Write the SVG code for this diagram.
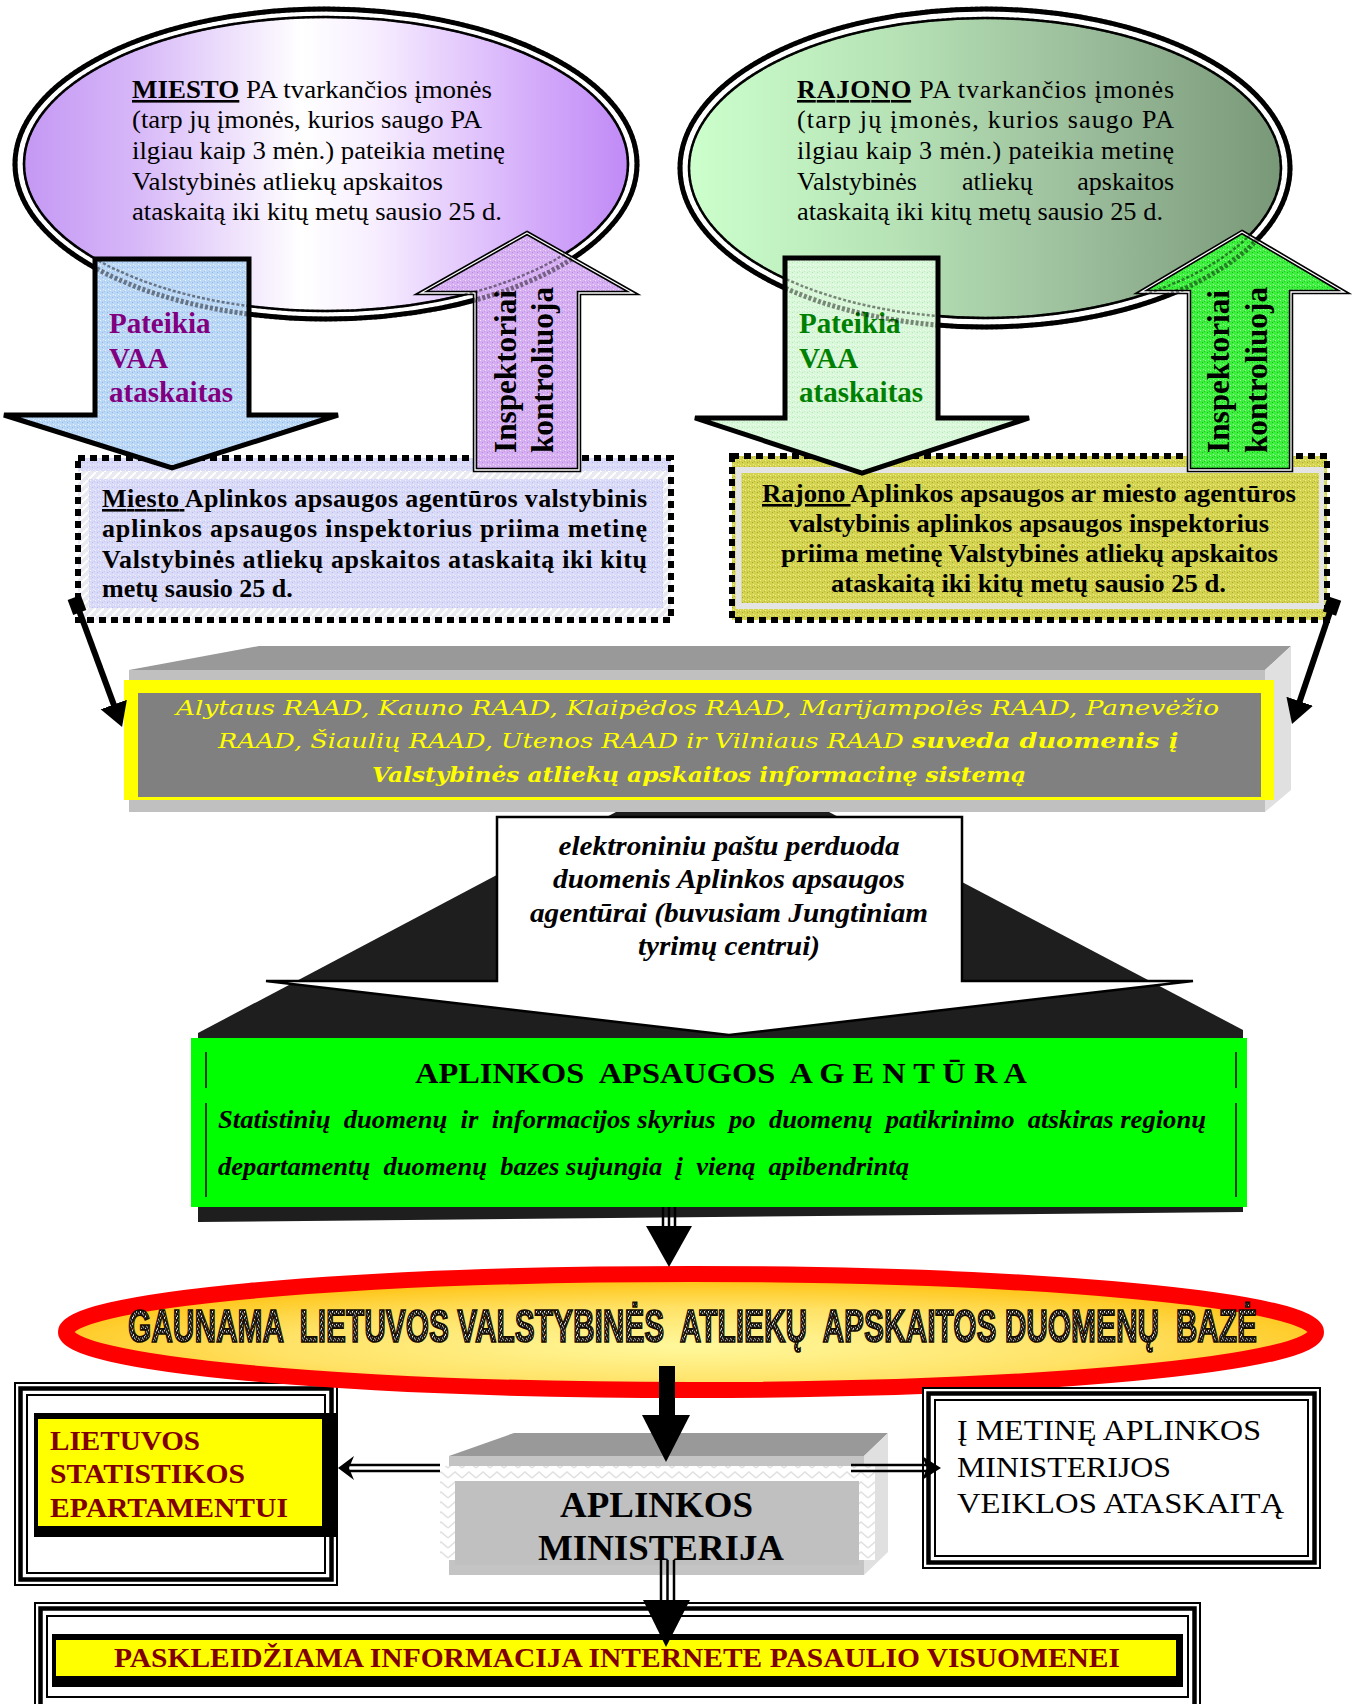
<svg xmlns="http://www.w3.org/2000/svg" width="1353" height="1704" viewBox="0 0 1353 1704">
<defs>
<style>
text{font-family:"Liberation Serif","Times New Roman",serif;fill:#000}
.b{font-weight:bold}
.i{font-style:italic}
.u{text-decoration:underline}
.ell{font-size:26px}
.bx{font-size:26px;font-weight:bold}
.vaa{font-size:29px;font-weight:bold}
.rot{font-size:31px;font-weight:bold}
.raad{font-family:"DejaVu Serif","Liberation Serif",serif;font-style:italic;font-size:21px;fill:#FFFF00}
.dr{fill:#800000;font-weight:bold;font-size:28px}
.gau{font-family:"Liberation Sans",sans-serif;font-weight:bold;font-size:30px;fill:url(#pSpeck);stroke:#140C00;stroke-width:1.1}
.ln{fill:none;stroke:#000}
</style>
<linearGradient id="gPurple" x1="0" y1="0" x2="1" y2="0">
<stop offset="0" stop-color="#C498F4"/><stop offset="0.18" stop-color="#D6B6F8"/><stop offset="0.46" stop-color="#FFFFFF"/><stop offset="0.58" stop-color="#F7EEFF"/><stop offset="0.86" stop-color="#D2A8FA"/><stop offset="1" stop-color="#C08AF6"/>
</linearGradient>
<linearGradient id="gGreen" x1="0" y1="0" x2="1" y2="0">
<stop offset="0" stop-color="#CCFFCC"/><stop offset="0.35" stop-color="#B6E2B6"/><stop offset="0.7" stop-color="#98B998"/><stop offset="1" stop-color="#789878"/>
</linearGradient>
<radialGradient id="gGold" cx="0.5" cy="0.62" r="0.55">
<stop offset="0" stop-color="#FFF89C"/><stop offset="0.6" stop-color="#FFE266"/><stop offset="1" stop-color="#FFC61A"/>
</radialGradient>
<pattern id="pBlue" width="5" height="5" patternUnits="userSpaceOnUse"><rect width="5" height="5" fill="#BBD7F6"/><rect width="1" height="1" fill="#EAF3FF"/><rect x="2" y="2" width="1" height="1" fill="#93B9EA"/><rect x="3" y="4" width="1" height="1" fill="#EAF3FF"/><rect x="4" y="1" width="1" height="1" fill="#A5C6F0"/></pattern>
<pattern id="pPurple" width="5" height="5" patternUnits="userSpaceOnUse"><rect width="5" height="5" fill="#D6AEF2"/><rect width="1" height="1" fill="#F0DDFF"/><rect x="2" y="2" width="1" height="1" fill="#B98BE0"/><rect x="3" y="4" width="1" height="1" fill="#F0DDFF"/><rect x="4" y="1" width="1" height="1" fill="#C49AE8"/></pattern>
<pattern id="pLGreen" width="5" height="5" patternUnits="userSpaceOnUse"><rect width="5" height="5" fill="#D9F7D9"/><rect width="1" height="1" fill="#F6FFF6"/><rect x="2" y="2" width="1" height="1" fill="#B8E6B8"/><rect x="3" y="4" width="1" height="1" fill="#F6FFF6"/><rect x="4" y="1" width="1" height="1" fill="#C4ECC4"/></pattern>
<pattern id="pGreen" width="5" height="5" patternUnits="userSpaceOnUse"><rect width="5" height="5" fill="#3EF03E"/><rect width="1" height="1" fill="#A0FFA0"/><rect x="2" y="2" width="1" height="1" fill="#1CB81C"/><rect x="3" y="4" width="1" height="1" fill="#A0FFA0"/><rect x="4" y="1" width="1" height="1" fill="#28C828"/></pattern>
<pattern id="pYellow" width="5" height="5" patternUnits="userSpaceOnUse"><rect width="5" height="5" fill="#D3D350"/><rect width="1" height="1" fill="#EFEF8C"/><rect x="2" y="2" width="1" height="1" fill="#A9A936"/><rect x="3" y="4" width="1" height="1" fill="#EFEF8C"/><rect x="4" y="1" width="1" height="1" fill="#B8B840"/></pattern>
<pattern id="pLav" width="5" height="5" patternUnits="userSpaceOnUse"><rect width="5" height="5" fill="#D9D9F8"/><rect width="1" height="1" fill="#F0F0FF"/><rect x="2" y="2" width="1" height="1" fill="#BDBDEE"/><rect x="3" y="4" width="1" height="1" fill="#F0F0FF"/><rect x="4" y="1" width="1" height="1" fill="#C8C8F2"/></pattern>
<pattern id="pHatch" width="8" height="8" patternUnits="userSpaceOnUse"><rect width="8" height="8" fill="#E9E9F1"/><path d="M0,8 L8,0" stroke="#FFFFFF" stroke-width="2"/></pattern>
<pattern id="pZig" width="14" height="10" patternUnits="userSpaceOnUse"><rect width="14" height="10" fill="#FFFFFF"/><path d="M0,8 L7,2 L14,8" fill="none" stroke="#E0E0E0" stroke-width="1.5"/></pattern>
<pattern id="pSpeck" width="4" height="4" patternUnits="userSpaceOnUse"><rect width="4" height="4" fill="#1E1812"/><rect width="1" height="1" fill="#FFFFFF"/><rect x="2" y="1" width="1" height="1" fill="#CCCCCC"/><rect x="1" y="3" width="1" height="1" fill="#FFFFFF"/><rect x="3" y="2" width="1" height="1" fill="#999999"/></pattern>
<marker id="ah" markerUnits="userSpaceOnUse" viewBox="0 -15 26 30" markerWidth="26" markerHeight="30" refX="10" refY="0" orient="auto"><path d="M0,-14 L24,0 L0,14 Z" fill="#000"/></marker>
<marker id="dm" markerUnits="userSpaceOnUse" viewBox="-10 -10 20 20" markerWidth="20" markerHeight="20" refX="0" refY="0" orient="auto"><path d="M-8,-7 H8 V7 H-8 Z" fill="#000"/></marker>
</defs>

<rect width="1353" height="1704" fill="#FFFFFF"/>

<!-- RAAD 3D box -->
<g id="raad-box">
<polygon points="129,670 259,646 1291,646 1265,670" fill="#999999"/>
<rect x="129" y="670" width="1136" height="142" fill="#C0C0C0"/>
<polygon points="1265,670 1291,646 1291,790 1265,812" fill="#E0E0E0"/>
<rect x="124" y="680" width="1150" height="120" fill="#FFFF00"/>
<rect x="138" y="693" width="1123" height="104" fill="#808080"/>
<text class="raad" x="176" y="715" textLength="1043" lengthAdjust="spacingAndGlyphs">Alytaus RAAD, Kauno RAAD, Klaipėdos RAAD, Marijampolės RAAD, Panevėžio</text>
<text class="raad" x="218" y="748" textLength="960" lengthAdjust="spacingAndGlyphs">RAAD, Šiaulių RAAD, Utenos RAAD ir Vilniaus RAAD <tspan font-weight="bold">suveda duomenis į</tspan></text>
<text class="raad" x="372" y="782" font-weight="bold" textLength="654" lengthAdjust="spacingAndGlyphs">Valstybinės atliekų apskaitos informacinę sistemą</text>
</g>

<!-- dotted boxes -->
<g id="miesto-inspektorius">
<rect x="78" y="458" width="593" height="162" fill="url(#pHatch)"/>
<rect x="78" y="458" width="593" height="13" fill="url(#pLav)"/>
<rect x="89" y="479" width="574" height="129" fill="url(#pLav)"/>
<rect x="78" y="458" width="593" height="162" fill="none" stroke="#000" stroke-width="6" stroke-dasharray="7 5"/>
<text class="bx" x="102" y="507" textLength="545" lengthAdjust="spacing"><tspan class="u">Miesto </tspan>Aplinkos apsaugos agentūros valstybinis</text>
<text class="bx" x="102" y="537" textLength="545" lengthAdjust="spacing">aplinkos apsaugos inspektorius priima metinę</text>
<text class="bx" x="102" y="568" textLength="545" lengthAdjust="spacing">Valstybinės atliekų apskaitos ataskaitą iki kitų</text>
<text class="bx" x="102" y="597">metų sausio 25 d.</text>
</g>

<g id="rajono-inspektorius">
<rect x="732" y="456" width="595" height="164" fill="url(#pYellow)"/>
<rect x="738.5" y="470" width="583" height="136" fill="none" stroke="#E4E4E4" stroke-width="6"/>
<rect x="742" y="473" width="577" height="130" fill="url(#pYellow)"/>
<rect x="732" y="456" width="595" height="164" fill="none" stroke="#000" stroke-width="6" stroke-dasharray="7 5"/>
<text class="bx" x="762" y="502" textLength="534" lengthAdjust="spacingAndGlyphs"><tspan class="u">Rajono </tspan>Aplinkos apsaugos ar miesto agentūros</text>
<text class="bx" x="789" y="532" textLength="480" lengthAdjust="spacingAndGlyphs">valstybinis aplinkos apsaugos inspektorius</text>
<text class="bx" x="781" y="562" textLength="497" lengthAdjust="spacingAndGlyphs">priima metinę Valstybinės atliekų apskaitos</text>
<text class="bx" x="831" y="592" textLength="395" lengthAdjust="spacingAndGlyphs">ataskaitą iki kitų metų sausio 25 d.</text>
</g>

<!-- top ellipses -->
<g id="miesto-imones">
<ellipse cx="326" cy="164" rx="311" ry="155" fill="#FFFFFF" stroke="#000" stroke-width="5"/>
<ellipse cx="326" cy="164" rx="302" ry="147" fill="url(#gPurple)" stroke="#000" stroke-width="2.5"/>
<text class="ell" x="132" y="98" textLength="360" lengthAdjust="spacingAndGlyphs"><tspan class="b u">MIESTO</tspan> PA tvarkančios įmonės</text>
<text class="ell" x="132" y="128" textLength="350" lengthAdjust="spacingAndGlyphs">(tarp jų įmonės, kurios saugo PA</text>
<text class="ell" x="132" y="159" textLength="373" lengthAdjust="spacingAndGlyphs">ilgiau kaip 3 mėn.) pateikia metinę</text>
<text class="ell" x="132" y="190" textLength="311" lengthAdjust="spacingAndGlyphs">Valstybinės atliekų apskaitos</text>
<text class="ell" x="132" y="220" textLength="370" lengthAdjust="spacingAndGlyphs">ataskaitą iki kitų metų sausio 25 d.</text>
</g>

<g id="rajono-imones">
<ellipse cx="985" cy="168" rx="305" ry="159" fill="#FFFFFF" stroke="#000" stroke-width="5"/>
<ellipse cx="985" cy="168" rx="296" ry="150" fill="url(#gGreen)" stroke="#000" stroke-width="2.5"/>
<text class="ell" x="797" y="98" textLength="377" lengthAdjust="spacing"><tspan class="b u">RAJONO</tspan> PA tvarkančios įmonės</text>
<text class="ell" x="797" y="128" textLength="377" lengthAdjust="spacing">(tarp jų įmonės, kurios saugo PA</text>
<text class="ell" x="797" y="159" textLength="377" lengthAdjust="spacing">ilgiau kaip 3 mėn.) pateikia metinę</text>
<text class="ell" y="190"><tspan x="797">Valstybinės </tspan><tspan x="962">atliekų </tspan><tspan x="1174" text-anchor="end">apskaitos</tspan></text>
<text class="ell" x="797" y="220" textLength="366" lengthAdjust="spacingAndGlyphs">ataskaitą iki kitų metų sausio 25 d.</text>
</g>

<!-- block arrows -->
<g id="miesto-pateikia">
<path d="M95,259 H249 V415 H338 L172,468 L4,415 H95 Z" fill="url(#pBlue)" stroke="#000" stroke-width="5" stroke-linejoin="miter"/>
<text class="vaa" style="fill:#800080"><tspan x="109" y="333">Pateikia</tspan><tspan x="109" y="368">VAA</tspan><tspan x="109" y="402">ataskaitas</tspan></text>
</g>
<g id="miesto-kontroliuoja">
<path d="M527,233 L633,293 H579 V470 H475 V293 H421 Z" fill="url(#pPurple)" stroke="#000" stroke-width="4.5"/>
<path d="M527,233 L633,293 H579 V470 H475 V293 H421 Z" fill="none" stroke="#FFFFFF" stroke-width="1.3"/>
<text class="rot" transform="translate(516,453) rotate(-90)" textLength="163" lengthAdjust="spacingAndGlyphs">Inspektoriai</text>
<text class="rot" transform="translate(553,453) rotate(-90)" textLength="166" lengthAdjust="spacingAndGlyphs">kontroliuoja</text>
</g>
<g id="rajono-pateikia">
<path d="M785,258 H938 V418 H1029 L862,473 L695,418 H785 Z" fill="url(#pLGreen)" stroke="#000" stroke-width="5" stroke-linejoin="miter"/>
<text class="vaa" style="fill:#008000"><tspan x="799" y="333">Pateikia</tspan><tspan x="799" y="368">VAA</tspan><tspan x="799" y="402">ataskaitas</tspan></text>
</g>
<g id="rajono-kontroliuoja">
<path d="M1242,232 L1344,292 H1291 V470 H1189 V292 H1141 Z" fill="url(#pGreen)" stroke="#000" stroke-width="4.5"/>
<path d="M1242,232 L1344,292 H1291 V470 H1189 V292 H1141 Z" fill="none" stroke="#FFFFFF" stroke-width="1.3"/>
<text class="rot" transform="translate(1229,453) rotate(-90)" textLength="163" lengthAdjust="spacingAndGlyphs">Inspektoriai</text>
<text class="rot" transform="translate(1267,453) rotate(-90)" textLength="166" lengthAdjust="spacingAndGlyphs">kontroliuoja</text>
</g>

<!-- ellipse outlines showing through arrows -->
<g id="ellipse-outline-overlay" fill="none" stroke="#000" opacity="0.45" stroke-dasharray="3 2">
<ellipse cx="326" cy="164" rx="311" ry="155" stroke-width="5"/>
<ellipse cx="326" cy="164" rx="302" ry="147" stroke-width="2.5"/>
<ellipse cx="985" cy="168" rx="305" ry="159" stroke-width="5"/>
<ellipse cx="985" cy="168" rx="296" ry="150" stroke-width="2.5"/>
</g>

<!-- agency block with callout -->
<g id="el-pastas">
<polygon points="616,812 829,812 1243,1030 1243,1212 198,1222 198,1033" fill="#1E1E1E"/>
<path d="M497,817 H962 V981 H1193 L729,1035 L266,981 H497 Z" fill="#FFFFFF" stroke="#000" stroke-width="2.5" stroke-linejoin="miter"/>
<text class="b i" font-size="27" x="729" y="855" text-anchor="middle" textLength="341" lengthAdjust="spacingAndGlyphs">elektroniniu paštu perduoda</text>
<text class="b i" font-size="27" x="729" y="888" text-anchor="middle" textLength="352" lengthAdjust="spacingAndGlyphs">duomenis Aplinkos apsaugos</text>
<text class="b i" font-size="27" x="729" y="922" text-anchor="middle" textLength="398" lengthAdjust="spacingAndGlyphs">agentūrai (buvusiam Jungtiniam</text>
<text class="b i" font-size="27" x="729" y="955" text-anchor="middle" textLength="182" lengthAdjust="spacingAndGlyphs">tyrimų centrui)</text>
</g>

<g id="aplinkos-apsaugos-agentura">
<rect x="191" y="1038" width="1056" height="169" fill="#00FF00"/>
<g class="ln" stroke-width="1.5">
<line x1="206" y1="1052" x2="206" y2="1088"/><line x1="206" y1="1103" x2="206" y2="1197"/>
<line x1="1236" y1="1052" x2="1236" y2="1088"/><line x1="1236" y1="1103" x2="1236" y2="1197"/>
</g>
<text class="b" font-size="30" x="415" y="1083" xml:space="preserve" textLength="612" lengthAdjust="spacingAndGlyphs">APLINKOS  APSAUGOS  A G E N T Ū R A</text>
<text class="b i" font-size="25" x="218" y="1128" xml:space="preserve" textLength="988" lengthAdjust="spacingAndGlyphs">Statistinių  duomenų  ir  informacijos skyrius  po  duomenų  patikrinimo  atskiras regionų</text>
<text class="b i" font-size="25" x="218" y="1175" xml:space="preserve" textLength="691" lengthAdjust="spacingAndGlyphs">departamentų  duomenų  bazes sujungia  į  vieną  apibendrintą</text>
</g>

<!-- statistics box (under red ellipse) -->
<g id="statistikos-departamentas">
<rect x="15" y="1383" width="322" height="202" fill="#FFFFFF" stroke="#000" stroke-width="2"/>
<rect x="20.5" y="1388.5" width="311" height="191" fill="none" stroke="#000" stroke-width="4.5"/>
<rect x="27" y="1395" width="298" height="178" fill="none" stroke="#000" stroke-width="2"/>
<rect x="34" y="1413" width="303" height="124" fill="#000"/>
<rect x="38" y="1419" width="284" height="107" fill="#FFFF00"/>
<text class="dr" x="50" y="1450" textLength="150" lengthAdjust="spacingAndGlyphs">LIETUVOS</text>
<text class="dr" x="50" y="1483" textLength="195" lengthAdjust="spacingAndGlyphs">STATISTIKOS</text>
<text class="dr" x="50" y="1517" textLength="238" lengthAdjust="spacingAndGlyphs">EPARTAMENTUI</text>
</g>

<g id="duomenu-baze">
<ellipse cx="691" cy="1332" rx="625" ry="58" fill="url(#gGold)" stroke="#FF0000" stroke-width="16"/>
<text class="gau" transform="translate(128,1342) scale(1,1.55)" x="0" y="0" xml:space="preserve" textLength="1129" lengthAdjust="spacingAndGlyphs">GAUNAMA  LIETUVOS VALSTYBINĖS  ATLIEKŲ  APSKAITOS DUOMENŲ  BAZĖ</text>
</g>

<g id="metine-ataskaita">
<rect x="923" y="1388" width="397" height="180" fill="#FFFFFF" stroke="#000" stroke-width="2"/>
<rect x="928.5" y="1393.5" width="386" height="169" fill="none" stroke="#000" stroke-width="4.5"/>
<rect x="935" y="1400" width="373" height="156" fill="none" stroke="#000" stroke-width="2"/>
<text font-size="29" x="957" y="1440" textLength="304" lengthAdjust="spacingAndGlyphs">Į METINĘ APLINKOS</text>
<text font-size="29" x="957" y="1477" textLength="214" lengthAdjust="spacingAndGlyphs">MINISTERIJOS</text>
<text font-size="29" x="957" y="1513" textLength="327" lengthAdjust="spacingAndGlyphs">VEIKLOS ATASKAITĄ</text>
</g>

<g id="aplinkos-ministerija">
<polygon points="449,1456 514,1433 888,1433 864,1456" fill="#999999"/>
<rect x="449" y="1456" width="415" height="119" fill="#C4C4C4"/>
<polygon points="864,1456 888,1433 888,1552 864,1575" fill="#E0E0E0"/>
<rect x="440" y="1466" width="435" height="94" fill="url(#pZig)"/>
<rect x="455" y="1481" width="404" height="84" fill="#C0C0C0"/>
<text class="b" font-size="35" x="560" y="1517" textLength="193" lengthAdjust="spacingAndGlyphs">APLINKOS</text>
<text class="b" font-size="35" x="538" y="1560" textLength="246" lengthAdjust="spacingAndGlyphs">MINISTERIJA</text>
</g>

<g id="internetas">
<rect x="35" y="1603" width="1165" height="110" fill="#FFFFFF" stroke="#000" stroke-width="2"/>
<rect x="40.5" y="1608.5" width="1154" height="100" fill="none" stroke="#000" stroke-width="4.5"/>
<rect x="47" y="1616" width="1141" height="81" fill="none" stroke="#000" stroke-width="2"/>
<rect x="52" y="1634" width="1131" height="53" fill="#000"/>
<rect x="56" y="1640" width="1120" height="36" fill="#FFFF00"/>
<text class="dr" x="114" y="1667" textLength="1006" lengthAdjust="spacingAndGlyphs">PASKLEIDŽIAMA INFORMACIJA INTERNETE PASAULIO VISUOMENEI</text>
</g>

<!-- connectors -->
<g id="connectors">
<line x1="77" y1="605" x2="117.2" y2="713.9" stroke="#000" stroke-width="6" marker-start="url(#dm)" marker-end="url(#ah)"/>
<line x1="1332" y1="606" x2="1296.5" y2="710.7" stroke="#000" stroke-width="6" marker-start="url(#dm)" marker-end="url(#ah)"/>
<g stroke="#000" stroke-width="2.5">
<line x1="663" y1="1207" x2="663" y2="1228"/><line x1="669" y1="1207" x2="669" y2="1228"/><line x1="675" y1="1207" x2="675" y2="1228"/>
</g>
<polygon points="646,1226 692,1226 669,1267" fill="#000"/>
<rect x="659" y="1366" width="16" height="50" fill="#000"/>
<polygon points="642,1415 690,1415 666,1462" fill="#000"/>
<g stroke="#000" stroke-width="2.5">
<line x1="661" y1="1560" x2="661" y2="1602"/><line x1="667.5" y1="1560" x2="667.5" y2="1602"/><line x1="674" y1="1560" x2="674" y2="1602"/>
</g>
<polygon points="643,1600 690,1600 666,1647" fill="#000"/>
<g stroke="#000" stroke-width="2.5">
<line x1="440" y1="1465" x2="350" y2="1465"/><line x1="440" y1="1471" x2="350" y2="1471"/>
<line x1="851" y1="1465" x2="926" y2="1465"/><line x1="851" y1="1471" x2="926" y2="1471"/>
</g>
<polygon points="338,1468 354,1456 349,1468 354,1480" fill="#000"/>
<polygon points="941,1468 922,1456 927,1468 922,1480" fill="#000"/>
</g>
</svg>
